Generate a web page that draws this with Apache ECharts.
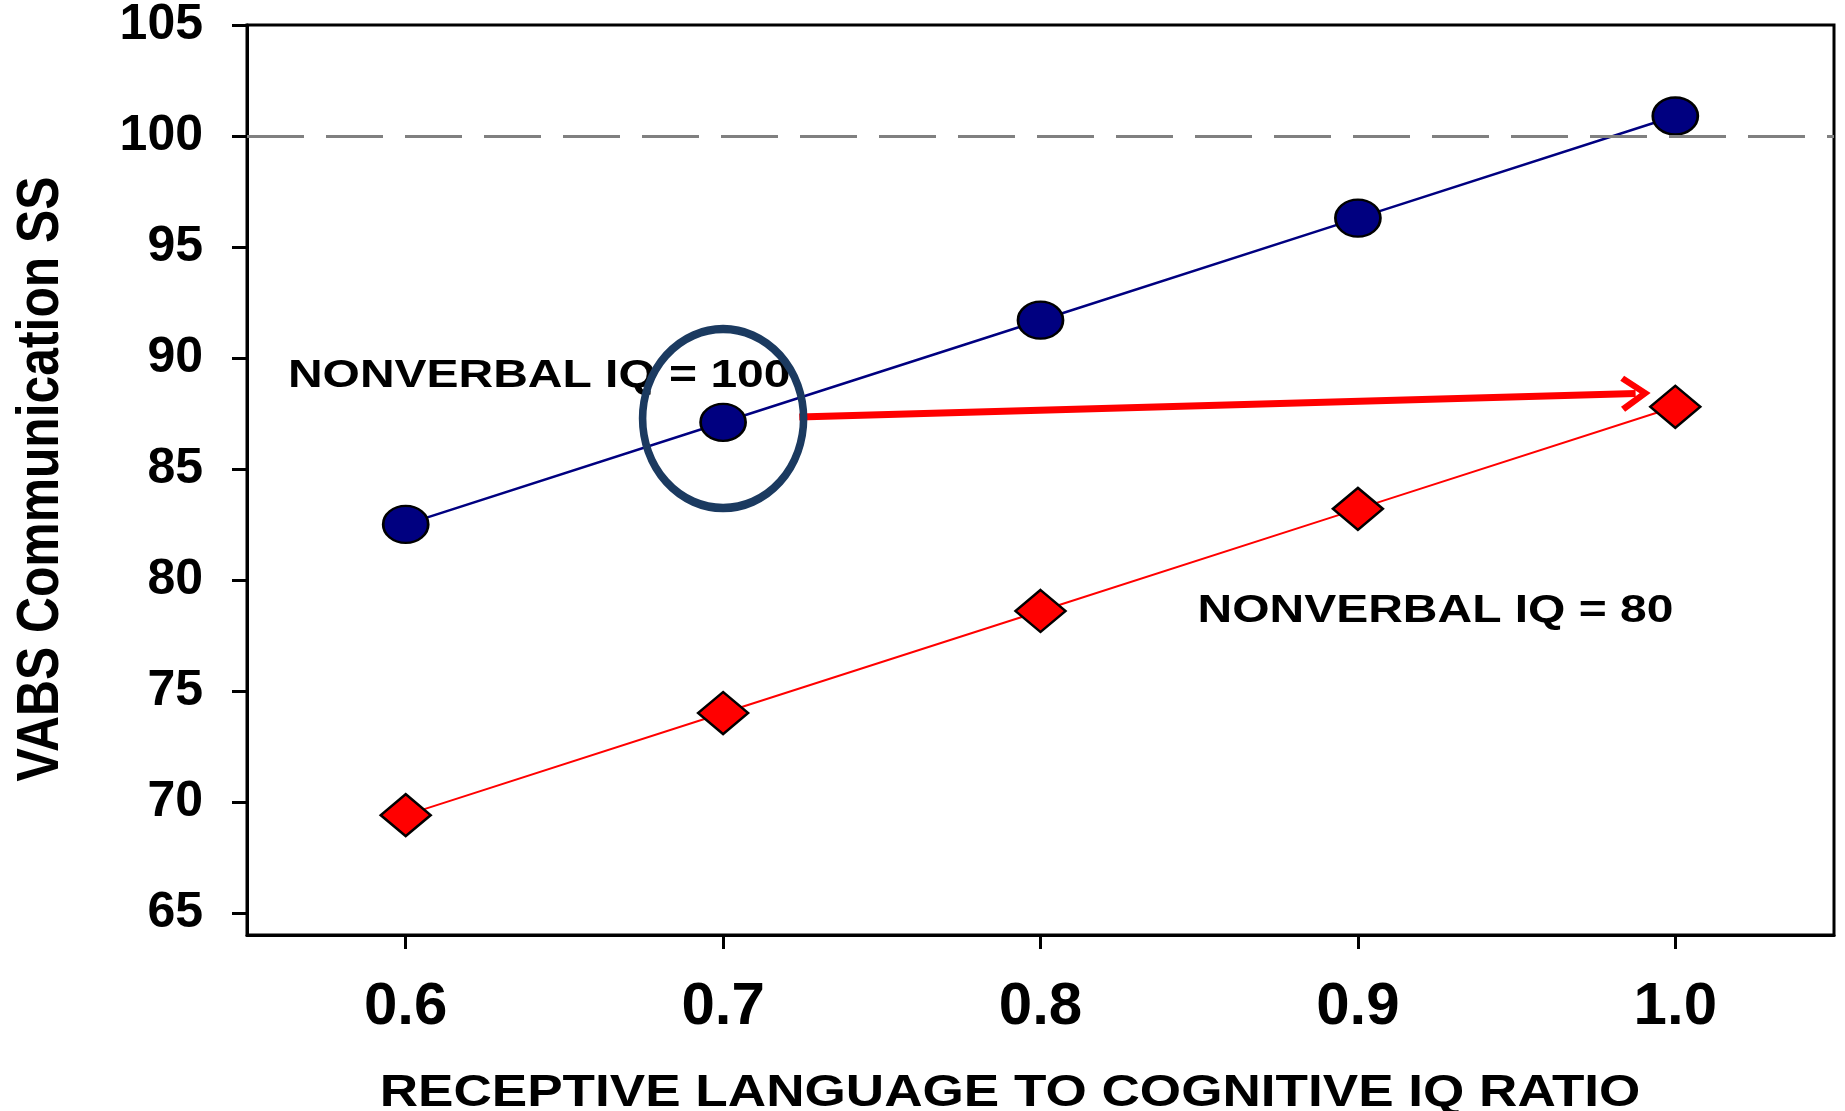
<!DOCTYPE html>
<html>
<head>
<meta charset="utf-8">
<script src="https://cdn.jsdelivr.net/npm/echarts@6/dist/echarts.min.js"></script>
<style>
html,body{margin:0;padding:0;background:#fff;}
#chart{width:1845px;height:1111px;}
</style>
</head>
<body>
<div id="chart"></div>
<script>
// ---- data ----
const xValues = [0.6, 0.7, 0.8, 0.9, 1.0];
const iq100Values = [82.5, 87.1, 91.7, 96.3, 100.9];
const iq80Values = [69.4, 74.0, 78.6, 83.2, 87.8];
const xTickValues = [0.6, 0.7, 0.8, 0.9, 1.0];
const yTickValues = [65, 70, 75, 80, 85, 90, 95, 100, 105];
const referenceValue = 100;
const ringCenter = [0.7, 87.27];
const arrowFrom = [0.724, 87.34];
const arrowTo = [0.9875, 88.40];
const label100Anchor = [0.5629, 89.18];
const label80Anchor = [0.8495, 78.6];
const label100Text = 'NONVERBAL IQ = 100';
const label80Text = 'NONVERBAL IQ = 80';
const xTitle = 'RECEPTIVE LANGUAGE TO COGNITIVE IQ RATIO';
const yTitle = 'VABS Communication SS';

const chevron = 'path://M18,0 L36,26 L31,30 L18,11 L5,30 L0,26 Z';

const chart = echarts.init(document.getElementById('chart'), null, {renderer: 'canvas'});

const option = {
  animation: false,
  backgroundColor: '#ffffff',
  grid: {
    left: 247, right: 11, top: 25, bottom: 176,
    containLabel: false, outerBoundsMode: 'none',
    show: true, borderColor: '#000', borderWidth: 3, backgroundColor: 'transparent'
  },
  xAxis: {
    type: 'value', min: 0.55, max: 1.05,
    axisLine: {show: true, onZero: false, lineStyle: {color: '#000', width: 3}},
    axisTick: {show: true, length: 14, lineStyle: {color: '#000', width: 3}, customValues: xTickValues},
    axisLabel: {show: true, customValues: xTickValues, margin: 42, fontFamily: 'Liberation Sans', fontWeight: 'bold', fontSize: 60, color: '#000',
      formatter: v => Number(v).toFixed(1)},
    splitLine: {show: false}
  },
  yAxis: {
    type: 'value', min: 64, max: 105,
    axisLine: {show: true, onZero: false, lineStyle: {color: '#000', width: 3}},
    axisTick: {show: true, length: 15, lineStyle: {color: '#000', width: 3}, customValues: yTickValues},
    axisLabel: {show: true, customValues: yTickValues, margin: 44, fontFamily: 'Liberation Sans', fontWeight: 'bold', fontSize: 50, color: '#000'},
    splitLine: {show: false}
  },
  series: [
    {
      name: 'NONVERBAL IQ = 100',
      type: 'line',
      z: 3,
      data: xValues.map((x, i) => [x, iq100Values[i]]),
      symbol: 'circle',
      symbolSize: [45, 37],
      itemStyle: {color: '#000080', borderColor: '#000', borderWidth: 2.5},
      lineStyle: {color: '#000080', width: 2.5},
      markLine: {
        silent: true, symbol: ['none', 'none'], animation: false,
        label: {show: false},
        lineStyle: {color: '#808080', width: 3, type: [57, 22]},
        data: [{yAxis: referenceValue}]
      },
      markPoint: {
        silent: true, animation: false,
        symbol: 'circle', symbolSize: [161, 179],
        itemStyle: {color: 'rgba(0,0,0,0)', borderColor: '#1b3a60', borderWidth: 8},
        label: {show: false},
        data: [{coord: ringCenter}]
      }
    },
    {
      name: 'NONVERBAL IQ = 80',
      type: 'line',
      z: 3,
      data: xValues.map((x, i) => [x, iq80Values[i]]),
      symbol: 'diamond',
      symbolSize: [50, 42],
      itemStyle: {color: '#ff0000', borderColor: '#000', borderWidth: 2.5},
      lineStyle: {color: '#ff0000', width: 2},
      markLine: {
        silent: true, animation: false,
        symbol: ['none', chevron], symbolSize: [36, 30],
        label: {show: false},
        lineStyle: {color: '#ff0000', width: 7, type: 'solid'},
        itemStyle: {color: '#ff0000'},
        data: [[{coord: arrowFrom}, {coord: arrowTo}]]
      }
    }
  ]
};
chart.setOption(option);

function placeTexts() {
  const p100 = chart.convertToPixel({gridIndex: 0}, label100Anchor);
  const p80 = chart.convertToPixel({gridIndex: 0}, label80Anchor);
  const bold = {fontFamily: 'Liberation Sans', fontWeight: 'bold', fill: '#000'};
  const gridLeft = 247, gridTop = 25, gridBottom = 1111 - 176;
  chart.setOption({
    graphic: [
      {type: 'text', z: 1, x: p100[0], y: p100[1], scaleX: 1.23,
        style: Object.assign({text: label100Text, fontSize: 39, textAlign: 'left', textVerticalAlign: 'middle'}, bold)},
      {type: 'text', z: 1, x: p80[0], y: p80[1], scaleX: 1.23,
        style: Object.assign({text: label80Text, fontSize: 39, textAlign: 'left', textVerticalAlign: 'middle'}, bold)},
      {type: 'text', z: 1, x: 1010, y: gridBottom + 159, scaleX: 1.18,
        style: Object.assign({text: xTitle, fontSize: 45, textAlign: 'center', textVerticalAlign: 'middle'}, bold)},
      {type: 'text', z: 1, x: gridLeft - 206, y: (gridTop + gridBottom) / 2 - 1, rotation: Math.PI / 2, scaleX: 0.83,
        style: Object.assign({text: yTitle, fontSize: 60, textAlign: 'center', textVerticalAlign: 'middle'}, bold)}
    ]
  });
}
placeTexts();
</script>
</body>
</html>
